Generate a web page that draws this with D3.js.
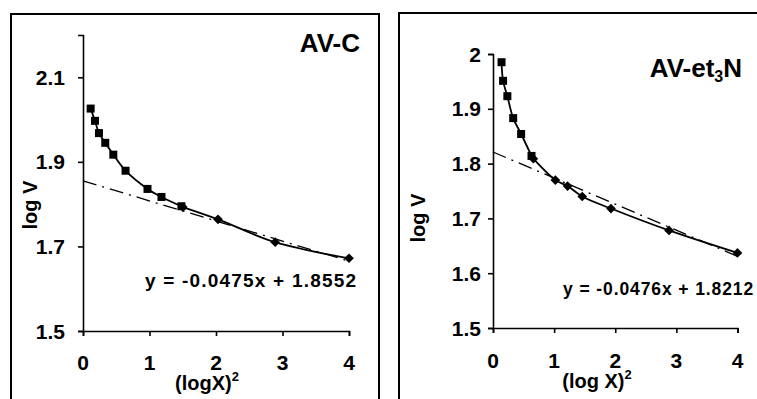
<!DOCTYPE html>
<html>
<head>
<meta charset="utf-8">
<script src="https://cdn.jsdelivr.net/npm/d3@7"></script>
<style>
  body { margin: 0; background: #fff; overflow: hidden; }
  svg { display: block; font-family: "Liberation Sans", Arial, sans-serif; font-weight: bold; }
</style>
</head>
<body>
<div id="chart"></div>
<script>
// ---- data ----
// panel A: AV-C
const avcSquareX = [0.115, 0.18, 0.24, 0.335, 0.456, 0.64, 0.97, 1.18, 1.48];
const avcSquareY = [2.026, 1.997, 1.968, 1.945, 1.917, 1.879, 1.836, 1.817, 1.795];
const avcDiamondX = [1.5, 2.03, 2.89, 4.0];
const avcDiamondY = [1.793, 1.764, 1.710, 1.672];
const avcFit = {slope: -0.0475, intercept: 1.8552};
const avcYTicks = [1.5, 1.7, 1.9, 2.1];

// panel B: AV-et3N
const avnSquareX = [0.14, 0.165, 0.235, 0.33, 0.46, 0.63];
const avnSquareY = [1.985, 1.951, 1.923, 1.883, 1.854, 1.814];
const avnDiamondX = [0.66, 1.02, 1.22, 1.46, 1.93, 2.88, 4.0];
const avnDiamondY = [1.809, 1.770, 1.759, 1.740, 1.718, 1.678, 1.637];
const avnFit = {slope: -0.0476, intercept: 1.8212};
const avnYTicks = [1.5, 1.6, 1.7, 1.8, 1.9, 2];

const xTicks = [0, 1, 2, 3, 4];

const svg = d3.select("#chart").append("svg")
    .attr("width", 757)
    .attr("height", 399);

function zip(xs, ys) {
    return xs.map((x, i) => ({x: x, y: ys[i]}));
}

function drawPanel(cfg) {
    const g = svg.append("g");

    // outer frame
    g.append("rect")
        .attr("x", cfg.frame.x).attr("y", cfg.frame.y)
        .attr("width", cfg.frame.w).attr("height", cfg.frame.h)
        .attr("fill", "none").attr("stroke", "#000").attr("stroke-width", 2);

    const x = d3.scaleLinear().domain([0, 4]).range([cfg.left, cfg.right]);
    const y = d3.scaleLinear().domain(cfg.yDomain).range([cfg.bottom, cfg.top]);

    // axes
    const xAxis = g.append("g")
        .attr("transform", `translate(0,${cfg.bottom})`)
        .call(d3.axisBottom(x).tickValues(xTicks).tickSize(5).tickFormat(""));
    const yAxis = g.append("g")
        .attr("transform", `translate(${cfg.left},0)`)
        .call(d3.axisLeft(y).tickValues(cfg.yTicks).tickSize(5).tickFormat(""));
    [xAxis, yAxis].forEach(a => {
        a.select(".domain").attr("stroke", "#000").attr("stroke-width", 1.6);
        a.selectAll(".tick line").attr("stroke", "#000").attr("stroke-width", 1.6);
    });

    g.selectAll(".xlab")
        .data(xTicks)
        .enter().append("text")
        .attr("x", d => x(d))
        .attr("y", cfg.bottom + cfg.xLabOff)
        .attr("text-anchor", "middle")
        .style("font-size", "21px")
        .text(d => d);

    g.selectAll(".ylab")
        .data(cfg.yTicks)
        .enter().append("text")
        .attr("x", cfg.left - cfg.yLabGap)
        .attr("y", d => y(d))
        .attr("dy", "0.36em")
        .attr("text-anchor", "end")
        .style("font-size", "21px")
        .text(d => d3.format(cfg.tickFmt)(d));

    // axis titles
    const xt = g.append("text")
        .attr("x", cfg.xTitleX)
        .attr("y", cfg.bottom + cfg.xTitleOff)
        .attr("text-anchor", "middle")
        .style("font-size", "20px");
    xt.append("tspan").text(cfg.xTitle);
    xt.append("tspan").attr("dy", -9).style("font-size", "13px").text("2");

    g.append("text")
        .attr("transform", `translate(${cfg.yTitleX},${cfg.yTitleY}) rotate(-90)`)
        .attr("text-anchor", "middle")
        .style("font-size", "20px")
        .text("log V");

    // trend line
    const fitLine = d3.line().x(d => x(d)).y(d => y(cfg.fit.slope * d + cfg.fit.intercept));
    g.append("path")
        .attr("d", fitLine([0, 4]))
        .attr("fill", "none")
        .attr("stroke", "#000")
        .attr("stroke-width", 1.3)
        .attr("stroke-dasharray", "14,6,2,6");

    // smoothed data lines
    const line = d3.line().x(d => x(d.x)).y(d => y(d.y)).curve(d3.curveCatmullRom.alpha(0.5));
    const sq = zip(cfg.sqX, cfg.sqY);
    const di = zip(cfg.diX, cfg.diY);
    [sq, di].forEach(s => {
        g.append("path")
            .attr("d", line(s))
            .attr("fill", "none")
            .attr("stroke", "#000")
            .attr("stroke-width", 1.8);
    });

    // markers
    g.selectAll(".sq")
        .data(sq)
        .enter().append("rect")
        .attr("x", d => x(d.x) - 4)
        .attr("y", d => y(d.y) - 4)
        .attr("width", 8).attr("height", 8)
        .attr("fill", "#000");

    g.selectAll(".di")
        .data(di)
        .enter().append("path")
        .attr("d", d3.symbol().type(d3.symbolDiamond2).size(60))
        .attr("transform", d => `translate(${x(d.x)},${y(d.y)})`)
        .attr("fill", "#000");

    // equation
    g.append("text")
        .attr("x", cfg.eqX)
        .attr("y", cfg.eqY)
        .style("font-size", cfg.eqSize + "px")
        .style("letter-spacing", cfg.eqSpacing + "px")
        .text(`y = ${cfg.fit.slope}x + ${cfg.fit.intercept}`);

    return {g, x, y};
}

const left = drawPanel({
    frame: {x: 11, y: 14, w: 368, h: 400},
    left: 83, right: 349, top: 35, bottom: 331,
    yDomain: [1.5, 2.2], yTicks: avcYTicks, tickFmt: ".1f", yLabGap: 18,
    xLabOff: 39, xTitleOff: 59,
    xTitle: "(logX)", xTitleX: 207, yTitleX: 37, yTitleY: 205,
    fit: avcFit, sqX: avcSquareX, sqY: avcSquareY, diX: avcDiamondX, diY: avcDiamondY,
    eqX: 145, eqY: 287, eqSize: 19, eqSpacing: 1.2
});
left.g.append("text")
    .attr("x", 360).attr("y", 52)
    .attr("text-anchor", "end")
    .style("font-size", "26px")
    .text("AV-C");

const right = drawPanel({
    frame: {x: 399, y: 13, w: 400, h: 400},
    left: 493, right: 737.5, top: 54, bottom: 328,
    yDomain: [1.5, 2.0], yTicks: avnYTicks, tickFmt: "", yLabGap: 12,
    xLabOff: 40, xTitleOff: 60,
    xTitle: "(log X)", xTitleX: 597, yTitleX: 425, yTitleY: 218,
    fit: avnFit, sqX: avnSquareX, sqY: avnSquareY, diX: avnDiamondX, diY: avnDiamondY,
    eqX: 563, eqY: 295, eqSize: 17.5, eqSpacing: 0.9
});

const title = right.g.append("text")
    .attr("x", 742).attr("y", 77)
    .attr("text-anchor", "end")
    .style("font-size", "26px");
title.append("tspan").text("AV-et");
title.append("tspan").attr("dy", 5).style("font-size", "16px").text("3");
title.append("tspan").attr("dy", -5).text("N");
</script>
</body>
</html>
